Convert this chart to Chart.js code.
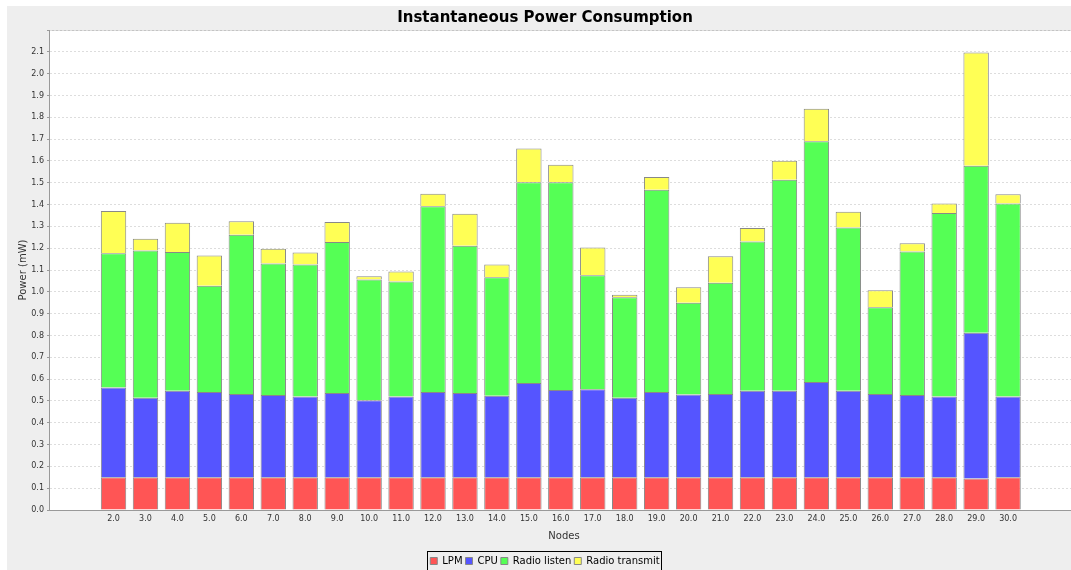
<!DOCTYPE html>
<html lang="en">
<head>
  <meta charset="UTF-8" />
  <title>Instantaneous Power Consumption</title>
  <script src="https://cdn.jsdelivr.net/npm/chart.js"></script>
  <style>
    html, body {
      margin: 0;
      padding: 0;
      background: #ffffff;
      overflow: hidden;
    }
    #wrap {
      position: absolute;
      left: 7px;
      top: 6px;
    }
  </style>
</head>
<body>
  <div id="wrap">
    <canvas id="powerChart" width="1076" height="570"></canvas>
  </div>

  <script>
    // node ids on the x axis
    const nodes = [2, 3, 4, 5, 6, 7, 8, 9, 10, 11, 12, 13, 14, 15, 16, 17, 18, 19, 20, 21, 22, 23, 24, 25, 26, 27, 28, 29, 30];

    // power per node (mW)
    const lpm = [0.150, 0.150, 0.150, 0.150, 0.150, 0.150, 0.150, 0.150, 0.150, 0.150,
                 0.150, 0.150, 0.150, 0.150, 0.150, 0.150, 0.150, 0.150, 0.150, 0.150,
                 0.150, 0.150, 0.150, 0.150, 0.150, 0.150, 0.150, 0.144, 0.150];
    const cpu = [0.411, 0.365, 0.396, 0.391, 0.382, 0.377, 0.370, 0.386, 0.353, 0.370,
                 0.391, 0.386, 0.374, 0.432, 0.400, 0.403, 0.365, 0.391, 0.379, 0.382,
                 0.396, 0.396, 0.437, 0.396, 0.382, 0.377, 0.370, 0.668, 0.370];
    const radioListen = [0.616, 0.674, 0.636, 0.487, 0.729, 0.603, 0.605, 0.692, 0.553, 0.527,
                         0.851, 0.675, 0.543, 0.920, 0.952, 0.523, 0.460, 0.927, 0.421, 0.510,
                         0.685, 0.968, 1.103, 0.749, 0.397, 0.658, 0.841, 0.766, 0.885];
    const radioTransmit = [0.193, 0.054, 0.134, 0.138, 0.063, 0.067, 0.055, 0.092, 0.015, 0.046,
                           0.058, 0.147, 0.058, 0.155, 0.080, 0.127, 0.012, 0.058, 0.071, 0.121,
                           0.062, 0.087, 0.149, 0.072, 0.078, 0.038, 0.044, 0.519, 0.042];

    const yTicksMax = 2.1;

    function toPoints(values) {
      return nodes.map((n, i) => ({ x: n, y: values[i] }));
    }

    function makeSet(label, values, color) {
      return {
        label: label,
        data: toPoints(values),
        backgroundColor: color,
        borderColor: '#888888',
        borderWidth: 1,
        barPercentage: 0.795,
        categoryPercentage: 1.0
      };
    }

    // grey panel, white plot area, plot frame
    const panelPlugin = {
      id: 'panel',
      beforeDraw(chart) {
        const ctx = chart.ctx;
        const a = chart.chartArea;
        ctx.save();
        ctx.fillStyle = '#eeeeee';
        ctx.fillRect(0, 0, chart.width, chart.height);
        ctx.fillStyle = '#ffffff';
        ctx.fillRect(a.left, a.top, a.right - a.left, a.bottom - a.top);
        ctx.strokeStyle = '#c4c4c4';
        ctx.lineWidth = 1;
        ctx.beginPath();
        ctx.moveTo(a.left, a.top + 0.5);
        ctx.lineTo(a.right, a.top + 0.5);
        ctx.stroke();
        ctx.restore();
      },
      afterDraw(chart) {
        // border round the legend
        const boxes = chart.legend && chart.legend.legendHitBoxes;
        if (!boxes || !boxes.length) return;
        let x0 = Infinity, x1 = -Infinity, top = Infinity;
        boxes.forEach(b => {
          x0 = Math.min(x0, b.left);
          x1 = Math.max(x1, b.left + b.width);
          top = Math.min(top, b.top);
        });
        const ctx = chart.ctx;
        ctx.save();
        ctx.strokeStyle = '#000000';
        ctx.lineWidth = 1;
        ctx.strokeRect(Math.round(x0 - 3) + 0.5, Math.round(top - 5) + 0.5, Math.round(x1 - x0 + 5), 30);
        ctx.restore();
      }
    };

    const ctx = document.getElementById('powerChart').getContext('2d');
    new Chart(ctx, {
      type: 'bar',
      data: {
        datasets: [
          makeSet('LPM', lpm, '#ff5555'),
          makeSet('CPU', cpu, '#5555ff'),
          makeSet('Radio listen', radioListen, '#55ff55'),
          makeSet('Radio transmit', radioTransmit, '#ffff55')
        ]
      },
      options: {
        responsive: false,
        animation: false,
        layout: { padding: { left: 0, right: 0, top: 0, bottom: 0 } },
        plugins: {
          title: {
            display: true,
            text: 'Instantaneous Power Consumption',
            color: '#000000',
            font: { family: 'DejaVu Sans', size: 15, weight: 'bold' },
            padding: { top: 3, bottom: 3 }
          },
          legend: {
            position: 'bottom',
            labels: {
              boxWidth: 7,
              boxHeight: 7,
              padding: 3,
              color: '#000000',
              font: { family: 'DejaVu Sans', size: 10 }
            }
          },
          tooltip: { enabled: false }
        },
        scales: {
          x: {
            type: 'linear',
            stacked: true,
            offset: false,
            min: -0.02,
            max: 32.22,
            afterFit: (scale) => { scale.height = 43; },
            grid: { display: false, drawTicks: false },
            border: { display: true, color: '#999999' },
            ticks: {
              stepSize: 1,
              autoSkip: false,
              maxRotation: 0,
              padding: 4,
              color: '#333333',
              font: { family: 'DejaVu Sans', size: 8 },
              callback: (v) => (Number.isInteger(v) && nodes.includes(v)) ? v.toFixed(1) : ''
            },
            title: {
              display: true,
              text: 'Nodes',
              color: '#333333',
              font: { family: 'DejaVu Sans', size: 10 },
              padding: { top: 0, bottom: 11 }
            }
          },
          y: {
            stacked: true,
            min: 0,
            max: 2.2,
            afterFit: (scale) => { scale.width = 42; },
            grid: {
              color: '#dddddd',
              tickLength: 2,
              tickColor: '#999999',
              tickBorderDash: []
            },
            border: { display: true, color: '#999999', dash: [2, 2] },
            ticks: {
              stepSize: 0.1,
              padding: 3,
              color: '#333333',
              font: { family: 'DejaVu Sans', size: 8 },
              callback: (v) => v > yTicksMax + 0.05 ? '' : v.toFixed(1)
            },
            title: {
              display: true,
              text: 'Power (mW)',
              color: '#333333',
              font: { family: 'DejaVu Sans', size: 10 },
              padding: { top: 10, bottom: 4 }
            }
          }
        }
      },
      plugins: [panelPlugin]
    });
  </script>
</body>
</html>
